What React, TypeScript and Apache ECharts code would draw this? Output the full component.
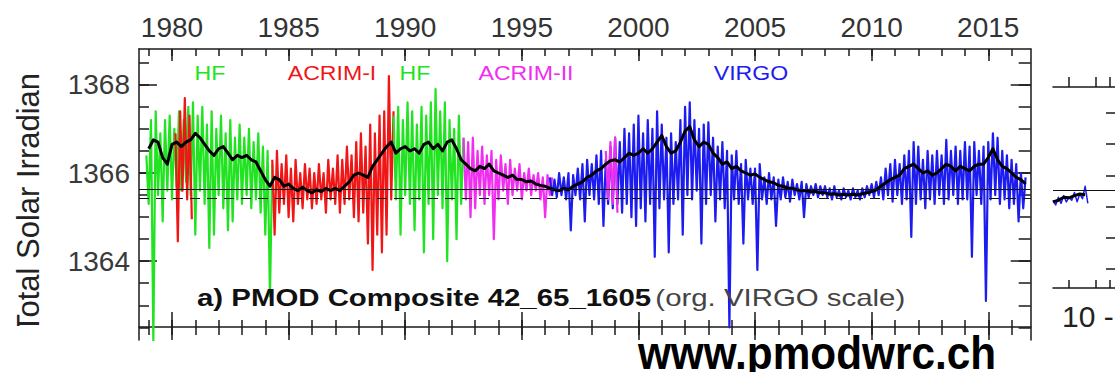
import React, { useEffect, useRef } from "react";
import * as echarts from "echarts";

// ---------- axis ticks / labels ----------
const yearTicks = [1979,1980,1981,1982,1983,1984,1985,1986,1987,1988,1989,1990,1991,1992,1993,1994,1995,1996,1997,1998,1999,2000,2001,2002,2003,2004,2005,2006,2007,2008,2009,2010,2011,2012,2013,2014,2015,2016];
const majorYears = [1980,1985,1990,1995,2000,2005,2010,2015];
const yMinorTicks = [1362.5,1363,1363.5,1364,1364.5,1365,1365.5,1366,1366.5,1367,1367.5,1368,1368.5];
const yMajorTicks = [1364,1366,1368];
const X_MIN = 1978.585, X_MAX = 2016.82;
const Y_MIN = 1362.213, Y_MAX = 1368.812;

const refSolid = 1365.63;
const refDashed = 1365.43;

// ---------- instrument data (TSI, W/m2), sampled every 0.1 yr, alternating highs / lows ----------
const STEP = 0.1;
const hf1Start = 1978.9;
const hf1 = [1366.4,1365.3,1367.2,1362.2,1367.4,1365.5,1366.9,1364.9,1367.2,1365.6,
  1367.3,1365.4,1367.0,1365.7,1367.4,1365.6,1367.2,1365.8,1367.5,1365.5,
  1367.6,1364.6,1367.3,1365.6,1367.5,1365.3,1367.1,1364.3,1367.4,1364.6,
  1367.0,1365.5,1367.3,1365.2,1366.9,1364.7,1367.2,1364.9,1366.8,1365.4,
  1367.1,1365.3,1366.8,1365.5,1367.0,1365.2,1366.7,1365.4,1366.9,1365.1,
  1366.6,1364.6,1366.5,1363.2,1366.2];
const acrim1aStart = 1980.15;
const acrim1a = [1366.9,1364.45,1367.4,1365.6,1367.7,1365.4,1367.3,1364.95];
const acrim1bStart = 1984.3;
const acrim1b = [1366.3,1364.6,1366.5,1365.1,1366.2,1365.3,1366.4,1365.0,1366.1,1364.9,
  1366.3,1365.3,1366.0,1365.2,1366.2,1365.4,1366.1,1365.2,1366.0,1365.3,
  1366.2,1365.4,1366.0,1365.1,1366.3,1365.4,1366.1,1365.3,1366.4,1365.1,
  1366.3,1365.3,1366.6,1365.4,1366.4,1365.0,1366.7,1364.9,1366.9,1365.1,
  1366.6,1364.4,1367.1,1363.8,1366.9,1364.6,1367.3,1364.2,1367.4,1364.6,
  1368.2,1365.4,1367.4];
const hf2Start = 1989.5;
const hf2 = [1367.3,1365.4,1367.5,1364.6,1367.2,1365.5,1367.6,1365.3,1367.4,1364.7,
  1367.1,1365.4,1367.5,1364.2,1367.3,1365.3,1367.6,1364.5,1367.9,1365.5,
  1367.4,1365.2,1367.6,1364.0,1367.2,1365.4,1367.0,1364.5,1367.3,1365.3,
  1366.8];
const acrim2aStart = 1992.5;
const acrim2a = [1366.8,1365.4,1366.7,1365.0,1366.8,1365.2,1366.5,1365.5,1366.6,1365.3,
  1366.4,1365.5,1366.5,1364.5,1366.3,1365.4,1366.4,1365.6,1366.2,1365.3,
  1366.3,1365.5,1366.1,1365.6,1366.2,1365.4,1366.0,1365.6,1366.1,1365.5,
  1365.95,1365.6,1366.0,1365.4,1365.9,1365.0,1365.95,1365.5,1365.9];
const virgoStart = 1996.2;
const virgo = [1365.9,1365.5,1365.85,1365.45,1366.0,1365.5,1365.9,1365.4,
  1366.0,1364.7,1365.95,1365.5,1366.1,1365.4,1366.2,1364.9,1366.3,1365.5,
  1366.2,1365.4,1366.4,1365.3,1366.5,1364.8,1366.3,1365.3,1366.6,1365.2,
  1366.8,1365.3,1366.7,1365.1,1367.0,1365.3,1366.9,1365.0,1367.1,1364.8,
  1367.3,1365.2,1366.9,1364.9,1367.2,1365.3,1367.0,1364.1,1367.4,1365.2,
  1367.1,1365.4,1366.8,1364.2,1366.9,1365.3,1366.7,1365.4,1367.2,1364.6,
  1367.5,1365.5,1367.6,1365.4,1367.2,1365.6,1367.0,1364.4,1367.1,1365.3,
  1367.15,1365.5,1366.8,1364.9,1366.6,1365.4,1366.7,1365.2,1366.5,1362.5,
  1366.4,1365.4,1366.5,1365.3,1366.2,1364.4,1366.3,1365.4,1366.1,1365.3,
  1366.1,1363.8,1366.2,1365.4,1365.9,1365.3,1366.0,1365.4,1365.9,1364.8,
  1365.85,1365.4,1365.9,1365.45,1365.8,1365.35,1365.85,1365.5,1365.75,1365.4,
  1365.8,1365.0,1365.75,1365.45,1365.7,1365.5,1365.75,1365.45,1365.7,1365.5,
  1365.7,1365.45,1365.65,1365.4,1365.7,1365.45,1365.6,1365.4,1365.65,1365.45,
  1365.6,1365.4,1365.65,1365.45,1365.6,1365.4,1365.65,1365.45,1365.7,1365.5,
  1365.75,1365.45,1365.8,1365.5,1365.9,1365.4,1366.1,1365.5,1366.2,1365.35,
  1366.3,1365.5,1366.2,1365.3,1366.4,1365.4,1366.5,1364.55,1366.7,1365.3,
  1366.6,1365.4,1366.3,1365.2,1366.5,1365.4,1366.4,1365.3,1366.5,1365.5,
  1366.4,1365.3,1366.75,1365.4,1366.5,1365.5,1366.6,1365.3,1366.5,1365.4,
  1366.7,1365.4,1366.6,1364.1,1366.7,1365.5,1366.5,1365.3,1366.6,1363.1,
  1366.7,1365.4,1366.9,1365.5,1366.8,1365.3,1366.5,1365.4,1366.4,1365.2,
  1366.3,1365.3,1366.2,1364.9,1366.0,1365.2,1365.9];
const acrim2bStart = 1998.6;
const acrim2b = [1366.5,1365.4,1366.7,1365.3,1366.8,1365.1];

// ---------- 81-day smoothed composite, every 0.2 yr ----------
const SMOOTH_STEP = 0.2;
const smoothStart = 1979.0;
const smooth = [1366.55,1366.75,1366.7,1366.35,1366.2,
  1366.65,1366.7,1366.6,1366.7,1366.75,
  1366.9,1366.8,1366.65,1366.5,1366.4,
  1366.55,1366.6,1366.45,1366.3,1366.4,
  1366.35,1366.4,1366.3,1366.25,1366.05,
  1365.85,1365.7,1365.9,1365.85,1365.7,
  1365.75,1365.65,1365.6,1365.68,1365.6,
  1365.55,1365.62,1365.58,1365.65,1365.6,
  1365.65,1365.6,1365.7,1365.8,1365.95,
  1366.0,1365.95,1365.9,1366.15,1366.3,
  1366.45,1366.6,1366.7,1366.45,1366.55,
  1366.6,1366.5,1366.55,1366.45,1366.65,
  1366.7,1366.55,1366.65,1366.5,1366.7,
  1366.75,1366.55,1366.3,1366.2,1366.1,
  1366.05,1366.15,1366.1,1366.2,1366.05,
  1366.0,1365.95,1365.9,1365.95,1365.85,
  1365.85,1365.8,1365.82,1365.75,1365.72,
  1365.7,1365.65,1365.62,1365.6,1365.65,
  1365.62,1365.7,1365.75,1365.8,1365.9,
  1365.95,1366.05,1366.1,1366.2,1366.28,
  1366.3,1366.25,1366.35,1366.45,1366.4,
  1366.45,1366.55,1366.45,1366.55,1366.7,
  1366.85,1366.6,1366.45,1366.5,1366.7,
  1366.95,1367.05,1366.75,1366.6,1366.7,
  1366.65,1366.45,1366.35,1366.2,1366.25,
  1366.1,1366.15,1366.05,1366.0,1365.95,
  1365.98,1365.9,1365.85,1365.8,1365.78,
  1365.72,1365.7,1365.66,1365.65,1365.62,
  1365.6,1365.6,1365.57,1365.58,1365.55,
  1365.55,1365.52,1365.53,1365.5,1365.52,
  1365.5,1365.52,1365.5,1365.53,1365.55,
  1365.58,1365.62,1365.7,1365.78,1365.85,
  1365.9,1365.95,1366.1,1366.15,1366.2,
  1366.1,1366.0,1366.05,1365.95,1366.0,
  1366.1,1366.2,1366.15,1366.05,1366.15,
  1366.1,1366.05,1366.15,1366.2,1366.2,
  1366.35,1366.55,1366.3,1366.15,1366.1,
  1366.0,1365.9,1365.85,1365.75];

// ---------- second (clipped) panel ----------
const p2Start = 0;
const p2Blue = [2.2,2.05,2.3,2.1,2.35,2.15,2.3,2.2,2.45,2.15,2.4,2.25,2.65,2.1];
const p2Smooth = [2.15,2.2,2.3,2.28,2.35,2.4,2.38];
const p2Ref = 2.53;
const p2XTicks = [0.6,1.6,2.1];
const p2YTicks = [0,1,2,3,4,5];

const GREEN = "#22e322";
const RED = "#f01616";
const MAGENTA = "#f02ef0";
const BLUE = "#1c1cf0";
const AXIS = "#1a1a1a";
const FONT = "Liberation Sans";

const toPts = (start: number, step: number, vals: number[]) =>
  vals.map((v, i) => [Math.round((start + i * step) * 1000) / 1000, v]);

function bandSeries(name: string, color: string, start: number, vals: number[], w = 2.2) {
  return {
    name, type: "line", xAxisIndex: 0, yAxisIndex: 0,
    data: toPts(start, STEP, vals), showSymbol: false, symbol: "none",
    lineStyle: { color, width: w, join: "round", cap: "butt" }, silent: true,
  };
}

function xAx(extra: any) {
  return {
    type: "value", gridIndex: 0, min: X_MIN, max: X_MAX,
    splitLine: { show: false }, axisLine: { show: false, onZero: false }, axisLabel: { show: false },
    ...extra,
  };
}
function yAx(extra: any) {
  return {
    type: "value", gridIndex: 0, min: Y_MIN, max: Y_MAX,
    splitLine: { show: false }, axisLine: { show: false, onZero: false }, axisLabel: { show: false },
    ...extra,
  };
}
const tick = (inside: boolean, length: number, values: number[]) => ({
  show: true, inside, length, customValues: values, lineStyle: { color: AXIS, width: 1.5 },
});
const line = { show: true, onZero: false, lineStyle: { color: AXIS, width: 1.5 } };

const label = (x: number, text: string, fill: string) => ({
  type: "text", x, y: 73, scaleX: 1.1,
  style: { text, fontSize: 21, fontFamily: FONT, fill, align: "center", verticalAlign: "middle" },
});

export default function App() {
  const ref = useRef<HTMLDivElement>(null);
  useEffect(() => {
    if (!ref.current) return;
    const chart = echarts.init(ref.current, null, { renderer: "svg" });
    const option: any = {
      animation: false,
      backgroundColor: "#ffffff",
      grid: [
        { left: 139, top: 49, width: 891.7, height: 291 },
        { left: 1053, top: 87, width: 67, height: 201 },
      ],
      xAxis: [
        xAx({ position: "top", axisLine: line, axisTick: tick(true, 7, yearTicks),
          axisLabel: { show: true, customValues: majorYears, formatter: (v: number) => String(v),
            fontSize: 28, fontFamily: FONT, color: "#333", margin: 8 } }),
        xAx({ position: "top", axisTick: tick(true, 12, majorYears) }),
        xAx({ position: "bottom", offset: -13, axisLine: line, axisTick: tick(true, 7, yearTicks) }),
        xAx({ position: "bottom", offset: -13, axisTick: tick(false, 8, yearTicks) }),
        xAx({ position: "bottom", offset: -13, axisTick: tick(true, 15, majorYears) }),
        xAx({ position: "bottom", offset: -13, axisTick: tick(false, 13, majorYears) }),
        { type: "value", gridIndex: 1, position: "top", min: 0, max: 2.5, splitLine: { show: false },
          axisLine: line, axisLabel: { show: false }, axisTick: tick(false, 10, p2XTicks) },
        { type: "value", gridIndex: 1, position: "bottom", min: 0, max: 2.5, splitLine: { show: false },
          axisLine: line, axisLabel: { show: false }, axisTick: tick(true, 8, p2XTicks) },
      ],
      yAxis: [
        yAx({ position: "left", axisLine: line, axisTick: tick(true, 10, yMinorTicks),
          axisLabel: { show: true, customValues: yMajorTicks, formatter: (v: number) => String(v),
            fontSize: 28, fontFamily: FONT, color: "#3a3a3a", margin: 9 } }),
        yAx({ position: "left", axisTick: tick(true, 18, yMajorTicks) }),
        yAx({ position: "right", axisLine: line, axisTick: tick(true, 12, yMinorTicks) }),
        yAx({ position: "right", axisTick: tick(true, 20, yMajorTicks) }),
        { type: "value", gridIndex: 1, position: "right", min: -0.61, max: 5.83, splitLine: { show: false },
          axisLine: line, axisLabel: { show: false }, axisTick: tick(true, 14, p2YTicks) },
      ],
      series: [
        bandSeries("HF", GREEN, hf1Start, hf1),
        bandSeries("ACRIM-I", RED, acrim1aStart, acrim1a),
        bandSeries("ACRIM-I b", RED, acrim1bStart, acrim1b),
        bandSeries("HF b", GREEN, hf2Start, hf2),
        bandSeries("ACRIM-II", MAGENTA, acrim2aStart, acrim2a),
        bandSeries("VIRGO", BLUE, virgoStart, virgo),
        bandSeries("ACRIM-II b", MAGENTA, acrim2bStart, acrim2b),
        {
          name: "smoothed", type: "line", data: toPts(smoothStart, SMOOTH_STEP, smooth),
          showSymbol: false, symbol: "none", silent: true,
          lineStyle: { color: "#000", width: 3, join: "round" },
          markLine: {
            silent: true, symbol: "none", label: { show: false },
            data: [
              { yAxis: refSolid, lineStyle: { color: "#111", width: 1.2, type: "solid" } },
              { yAxis: refDashed, lineStyle: { color: "#111", width: 1.2, type: [10, 7] } },
            ],
          },
        },
        {
          name: "p2", type: "line", xAxisIndex: 6, yAxisIndex: 4,
          data: toPts(p2Start, STEP, p2Blue), showSymbol: false, symbol: "none", silent: true,
          lineStyle: { color: BLUE, width: 1.5, join: "round" },
        },
        {
          name: "p2s", type: "line", xAxisIndex: 6, yAxisIndex: 4,
          data: toPts(p2Start, SMOOTH_STEP, p2Smooth), showSymbol: false, symbol: "none", silent: true,
          lineStyle: { color: "#000", width: 3, join: "round" },
          markLine: { silent: true, symbol: "none", label: { show: false },
            data: [{ yAxis: p2Ref, lineStyle: { color: "#111", width: 1.2, type: "solid" } }] },
        },
      ],
      graphic: [
        { type: "text", x: 28, y: 203, rotation: Math.PI / 2,
          style: { text: "Total Solar Irradian", fontSize: 31, fontFamily: FONT, fill: "#222",
            align: "center", verticalAlign: "middle" } },
        { type: "rect", z: 50, shape: { x: 0, y: 326, width: 60, height: 46 }, style: { fill: "#fff" } },
        label(210, "HF", GREEN),
        label(332, "ACRIM-I", RED),
        label(415, "HF", GREEN),
        label(526, "ACRIM-II", MAGENTA),
        label(751, "VIRGO", BLUE),
        { type: "text", x: 197, y: 298, scaleX: 1.225, z: 60,
          style: { text: "{b|a) PMOD Composite 42_65_1605} {n|(org. VIRGO scale)}", verticalAlign: "middle", align: "left",
            rich: {
              b: { fontSize: 24, fontWeight: "bold", fontFamily: FONT, fill: "#111" },
              n: { fontSize: 24, fontWeight: "normal", fontFamily: FONT, fill: "#444" },
            } } },
        { type: "text", x: 817, y: 353, scaleX: 0.92, z: 60,
          style: { text: "www.pmodwrc.ch", fontSize: 46, fontWeight: "bold", fontFamily: FONT, fill: "#000",
            align: "center", verticalAlign: "middle" } },
        { type: "text", x: 1062, y: 316,
          style: { text: "10 -", fontSize: 30, fontFamily: FONT, fill: "#222", align: "left", verticalAlign: "middle" } },
      ],
    };
    chart.setOption(option);
    return () => chart.dispose();
  }, []);
  return (
    <div style={{ position: "fixed", left: 0, top: 0, width: 1115, height: 372, overflow: "hidden", background: "#fff" }}>
      <div ref={ref} style={{ width: 1200, height: 372 }} />
    </div>
  );
}
